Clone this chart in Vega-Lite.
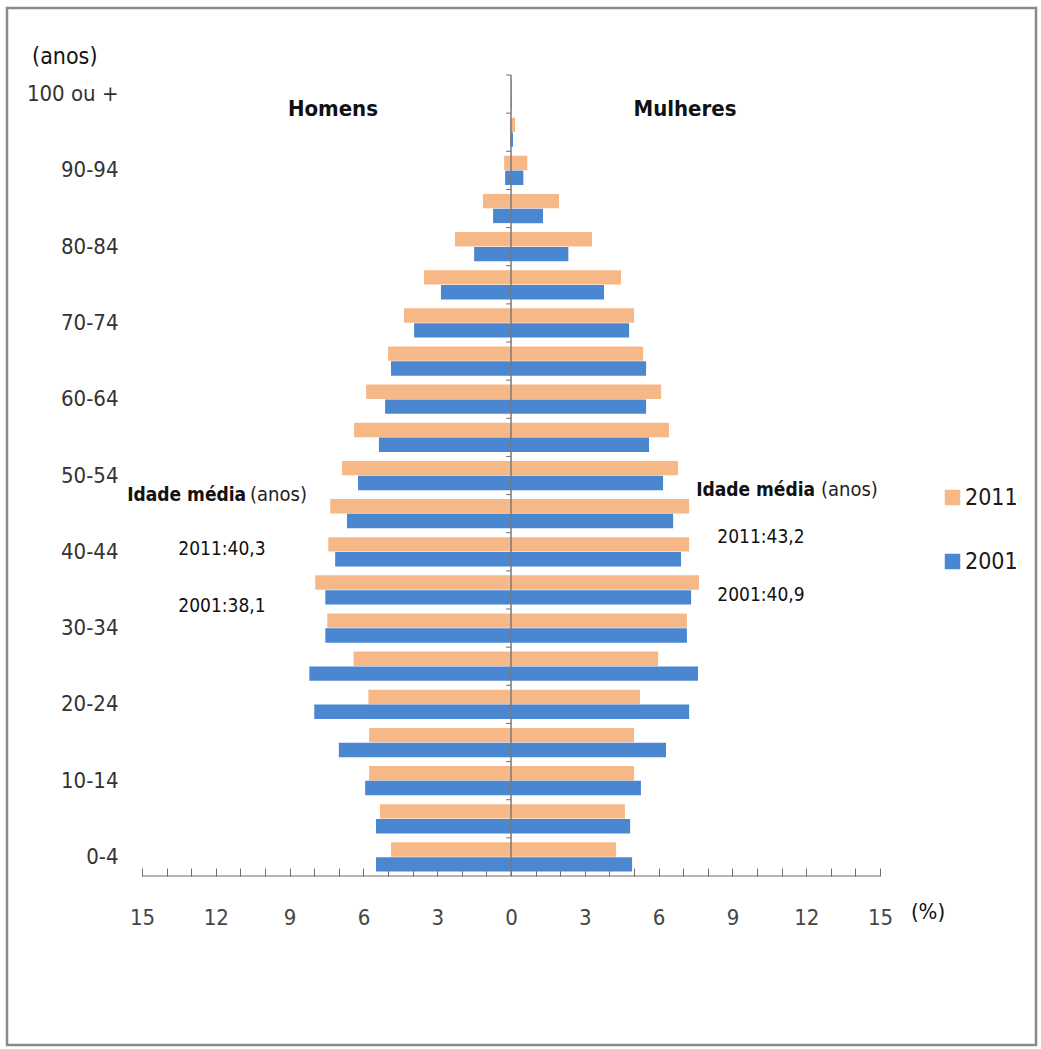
{
  "$schema": "https://vega.github.io/schema/vega-lite/v6.json",
  "width": 1029,
  "height": 1037,
  "autosize": {"type": "none"},
  "padding": {"left": 7, "top": 8, "right": 5, "bottom": 4},
  "background": "white",
  "config": {
    "view": {"stroke": "#8a8a8a", "strokeWidth": 2.5},
    "font": "Liberation Sans Narrow, DejaVu Sans Condensed, Open Sans, sans-serif",
    "text": {"font": "Liberation Sans Narrow, DejaVu Sans Condensed, Open Sans, sans-serif"}
  },
  "datasets": {
    "pyr": [
      {"age": "0-4", "sex": "Homens", "year": "2011", "pct": -4.88},
      {"age": "0-4", "sex": "Homens", "year": "2001", "pct": -5.49},
      {"age": "0-4", "sex": "Mulheres", "year": "2011", "pct": 4.27},
      {"age": "0-4", "sex": "Mulheres", "year": "2001", "pct": 4.92},
      {"age": "5-9", "sex": "Homens", "year": "2011", "pct": -5.33},
      {"age": "5-9", "sex": "Homens", "year": "2001", "pct": -5.49},
      {"age": "5-9", "sex": "Mulheres", "year": "2011", "pct": 4.63},
      {"age": "5-9", "sex": "Mulheres", "year": "2001", "pct": 4.84},
      {"age": "10-14", "sex": "Homens", "year": "2011", "pct": -5.77},
      {"age": "10-14", "sex": "Homens", "year": "2001", "pct": -5.93},
      {"age": "10-14", "sex": "Mulheres", "year": "2011", "pct": 5.0},
      {"age": "10-14", "sex": "Mulheres", "year": "2001", "pct": 5.28},
      {"age": "15-19", "sex": "Homens", "year": "2011", "pct": -5.77},
      {"age": "15-19", "sex": "Homens", "year": "2001", "pct": -7.0},
      {"age": "15-19", "sex": "Mulheres", "year": "2011", "pct": 5.0},
      {"age": "15-19", "sex": "Mulheres", "year": "2001", "pct": 6.3},
      {"age": "20-24", "sex": "Homens", "year": "2011", "pct": -5.8},
      {"age": "20-24", "sex": "Homens", "year": "2001", "pct": -8.0},
      {"age": "20-24", "sex": "Mulheres", "year": "2011", "pct": 5.24},
      {"age": "20-24", "sex": "Mulheres", "year": "2001", "pct": 7.24},
      {"age": "25-29", "sex": "Homens", "year": "2011", "pct": -6.4},
      {"age": "25-29", "sex": "Homens", "year": "2001", "pct": -8.2},
      {"age": "25-29", "sex": "Mulheres", "year": "2011", "pct": 5.98},
      {"age": "25-29", "sex": "Mulheres", "year": "2001", "pct": 7.6},
      {"age": "30-34", "sex": "Homens", "year": "2011", "pct": -7.47},
      {"age": "30-34", "sex": "Homens", "year": "2001", "pct": -7.55},
      {"age": "30-34", "sex": "Mulheres", "year": "2011", "pct": 7.15},
      {"age": "30-34", "sex": "Mulheres", "year": "2001", "pct": 7.15},
      {"age": "35-39", "sex": "Homens", "year": "2011", "pct": -7.96},
      {"age": "35-39", "sex": "Homens", "year": "2001", "pct": -7.55},
      {"age": "35-39", "sex": "Mulheres", "year": "2011", "pct": 7.64},
      {"age": "35-39", "sex": "Mulheres", "year": "2001", "pct": 7.32},
      {"age": "40-44", "sex": "Homens", "year": "2011", "pct": -7.43},
      {"age": "40-44", "sex": "Homens", "year": "2001", "pct": -7.15},
      {"age": "40-44", "sex": "Mulheres", "year": "2011", "pct": 7.24},
      {"age": "40-44", "sex": "Mulheres", "year": "2001", "pct": 6.91},
      {"age": "45-49", "sex": "Homens", "year": "2011", "pct": -7.35},
      {"age": "45-49", "sex": "Homens", "year": "2001", "pct": -6.67},
      {"age": "45-49", "sex": "Mulheres", "year": "2011", "pct": 7.24},
      {"age": "45-49", "sex": "Mulheres", "year": "2001", "pct": 6.59},
      {"age": "50-54", "sex": "Homens", "year": "2011", "pct": -6.87},
      {"age": "50-54", "sex": "Homens", "year": "2001", "pct": -6.22},
      {"age": "50-54", "sex": "Mulheres", "year": "2011", "pct": 6.79},
      {"age": "50-54", "sex": "Mulheres", "year": "2001", "pct": 6.18},
      {"age": "55-59", "sex": "Homens", "year": "2011", "pct": -6.38},
      {"age": "55-59", "sex": "Homens", "year": "2001", "pct": -5.37},
      {"age": "55-59", "sex": "Mulheres", "year": "2011", "pct": 6.42},
      {"age": "55-59", "sex": "Mulheres", "year": "2001", "pct": 5.61},
      {"age": "60-64", "sex": "Homens", "year": "2011", "pct": -5.89},
      {"age": "60-64", "sex": "Homens", "year": "2001", "pct": -5.12},
      {"age": "60-64", "sex": "Mulheres", "year": "2011", "pct": 6.1},
      {"age": "60-64", "sex": "Mulheres", "year": "2001", "pct": 5.49},
      {"age": "65-69", "sex": "Homens", "year": "2011", "pct": -5.0},
      {"age": "65-69", "sex": "Homens", "year": "2001", "pct": -4.88},
      {"age": "65-69", "sex": "Mulheres", "year": "2011", "pct": 5.37},
      {"age": "65-69", "sex": "Mulheres", "year": "2001", "pct": 5.49},
      {"age": "70-74", "sex": "Homens", "year": "2011", "pct": -4.35},
      {"age": "70-74", "sex": "Homens", "year": "2001", "pct": -3.94},
      {"age": "70-74", "sex": "Mulheres", "year": "2011", "pct": 5.0},
      {"age": "70-74", "sex": "Mulheres", "year": "2001", "pct": 4.8},
      {"age": "75-79", "sex": "Homens", "year": "2011", "pct": -3.54},
      {"age": "75-79", "sex": "Homens", "year": "2001", "pct": -2.85},
      {"age": "75-79", "sex": "Mulheres", "year": "2011", "pct": 4.47},
      {"age": "75-79", "sex": "Mulheres", "year": "2001", "pct": 3.78},
      {"age": "80-84", "sex": "Homens", "year": "2011", "pct": -2.28},
      {"age": "80-84", "sex": "Homens", "year": "2001", "pct": -1.5},
      {"age": "80-84", "sex": "Mulheres", "year": "2011", "pct": 3.29},
      {"age": "80-84", "sex": "Mulheres", "year": "2001", "pct": 2.33},
      {"age": "85-89", "sex": "Homens", "year": "2011", "pct": -1.14},
      {"age": "85-89", "sex": "Homens", "year": "2001", "pct": -0.73},
      {"age": "85-89", "sex": "Mulheres", "year": "2011", "pct": 1.95},
      {"age": "85-89", "sex": "Mulheres", "year": "2001", "pct": 1.3},
      {"age": "90-94", "sex": "Homens", "year": "2011", "pct": -0.28},
      {"age": "90-94", "sex": "Homens", "year": "2001", "pct": -0.24},
      {"age": "90-94", "sex": "Mulheres", "year": "2011", "pct": 0.66},
      {"age": "90-94", "sex": "Mulheres", "year": "2001", "pct": 0.5},
      {"age": "95-99", "sex": "Homens", "year": "2011", "pct": -0.05},
      {"age": "95-99", "sex": "Homens", "year": "2001", "pct": -0.03},
      {"age": "95-99", "sex": "Mulheres", "year": "2011", "pct": 0.16},
      {"age": "95-99", "sex": "Mulheres", "year": "2001", "pct": 0.08},
      {"age": "100 ou +", "sex": "Homens", "year": "2011", "pct": -0.01},
      {"age": "100 ou +", "sex": "Homens", "year": "2001", "pct": -0.01},
      {"age": "100 ou +", "sex": "Mulheres", "year": "2011", "pct": 0.03},
      {"age": "100 ou +", "sex": "Mulheres", "year": "2001", "pct": 0.02}
    ],
    "ages": [
      {"age": "0-4"}, {"age": "5-9"}, {"age": "10-14"}, {"age": "15-19"}, {"age": "20-24"},
      {"age": "25-29"}, {"age": "30-34"}, {"age": "35-39"}, {"age": "40-44"}, {"age": "45-49"},
      {"age": "50-54"}, {"age": "55-59"}, {"age": "60-64"}, {"age": "65-69"}, {"age": "70-74"},
      {"age": "75-79"}, {"age": "80-84"}, {"age": "85-89"}, {"age": "90-94"}, {"age": "95-99"},
      {"age": "100 ou +"}
    ]
  },
  "layer": [
    {
      "data": {"name": "pyr"},
      "mark": {"type": "bar", "clip": false},
      "encoding": {
        "y": {
          "field": "age", "type": "nominal",
          "scale": {
            "domain": [" ", "100 ou +", "95-99", "90-94", "85-89", "80-84", "75-79", "70-74", "65-69", "60-64", "55-59", "50-54", "45-49", "40-44", "35-39", "30-34", "25-29", "20-24", "15-19", "10-14", "5-9", "0-4", "  ", "   ", "    ", "     "],
            "paddingInner": 0, "paddingOuter": 0.5937, "align": 0.6374
          },
          "axis": {
            "orient": "left", "offset": -111, "title": null, "domain": false, "ticks": false, "tickSize": 0,
            "labelPadding": 0, "labelFontSize": 22, "labelColor": "#333333",
            "labelFont": "Liberation Sans Narrow, DejaVu Sans Condensed, Open Sans, sans-serif",
            "values": ["0-4", "10-14", "20-24", "30-34", "40-44", "50-54", "60-64", "70-74", "80-84", "90-94", "100 ou +"]
          }
        },
        "yOffset": {
          "field": "year", "type": "nominal",
          "scale": {"domain": ["2011", "2001"], "paddingInner": 0.03, "paddingOuter": 0.3}
        },
        "x": {
          "field": "pct", "type": "quantitative",
          "scale": {"domain": [-20.49, 21.34], "nice": false, "zero": false},
          "axis": {
            "orient": "bottom", "offset": -169, "title": null, "domain": false, "grid": false,
            "values": [-15, -14, -13, -12, -11, -10, -9, -8, -7, -6, -5, -4, -3, -2, -1, 0, 1, 2, 3, 4, 5, 6, 7, 8, 9, 10, 11, 12, 13, 14, 15],
            "tickCount": 60,
            "labelExpr": "datum.value % 3 == 0 ? format(abs(datum.value), 'd') : ''",
            "labelOverlap": false, "labelBound": false,
            "tickSize": -8, "tickColor": "#6e6e6e", "tickWidth": 1,
            "labelPadding": 39, "labelFontSize": 22, "labelColor": "#444444",
            "labelFont": "Liberation Sans Narrow, DejaVu Sans Condensed, Open Sans, sans-serif"
          }
        },
        "x2": {"datum": 0},
        "color": {
          "field": "year", "type": "nominal",
          "scale": {"domain": ["2011", "2001"], "range": ["#F7B888", "#4B86D1"]},
          "legend": {
            "orient": "none", "legendX": 934, "legendY": 478, "title": null,
            "symbolType": "square", "symbolSize": 240, "symbolStrokeWidth": 0, "symbolOpacity": 1,
            "labelFontSize": 23, "labelColor": "#1a1a1a", "labelOffset": 1,
            "labelFont": "Liberation Sans Narrow, DejaVu Sans Condensed, Open Sans, sans-serif",
            "rowPadding": 40, "padding": 0
          }
        }
      }
    },
    {
      "data": {"name": "ages"},
      "mark": {"type": "rect", "fill": null, "stroke": "#7a7a7a", "strokeWidth": 1},
      "encoding": {
        "y": {"field": "age", "type": "nominal"},
        "x": {"datum": 0, "type": "quantitative"},
        "x2": {"datum": 0}
      }
    },
    {
      "data": {"name": "ages"},
      "mark": {"type": "rule", "stroke": "#6e6e6e", "strokeWidth": 1},
      "encoding": {
        "y": {"field": "age", "type": "nominal", "bandPosition": 0},
        "x": {"datum": -0.2, "type": "quantitative"},
        "x2": {"datum": 0}
      }
    },
    {
      "data": {"values": [{"age": "0-4"}]},
      "mark": {"type": "rule", "stroke": "#6e6e6e", "strokeWidth": 1.2},
      "encoding": {
        "y": {"field": "age", "type": "nominal", "bandPosition": 1},
        "x": {"datum": -15, "type": "quantitative"},
        "x2": {"datum": 15}
      }
    },
    {
      "data": {"values": [{"label": "(anos)", "x": -19.47, "age": "100 ou +"}]},
      "mark": {"type": "text", "align": "left", "baseline": "middle", "dy": -18, "fontSize": 23, "color": "#111"},
      "encoding": {
        "text": {"field": "label"},
        "x": {"field": "x", "type": "quantitative"},
        "y": {"field": "age", "type": "nominal", "bandPosition": 0}
      }
    },
    {
      "data": {"values": [{"label": "Homens", "x": -7.24, "age": "100 ou +"}, {"label": "Mulheres", "x": 7.07, "age": "100 ou +"}]},
      "mark": {"type": "text", "align": "center", "baseline": "middle", "dy": -4, "fontSize": 22, "fontWeight": "bold", "color": "#111"},
      "encoding": {
        "text": {"field": "label"},
        "x": {"field": "x", "type": "quantitative"},
        "y": {"field": "age", "type": "nominal", "bandPosition": 1}
      }
    },
    {
      "data": {"values": [{"label": "Idade média", "x": -10.77, "age": "45-49"}]},
      "mark": {"type": "text", "align": "right", "baseline": "middle", "dy": 0, "fontSize": 19, "fontWeight": "bold", "color": "#111"},
      "encoding": {
        "text": {"field": "label"},
        "x": {"field": "x", "type": "quantitative"},
        "y": {"field": "age", "type": "nominal", "bandPosition": 0}
      }
    },
    {
      "data": {"values": [{"label": "(anos)", "x": -10.61, "age": "45-49"}]},
      "mark": {"type": "text", "align": "left", "baseline": "middle", "dy": 0, "fontSize": 20, "color": "#222"},
      "encoding": {
        "text": {"field": "label"},
        "x": {"field": "x", "type": "quantitative"},
        "y": {"field": "age", "type": "nominal", "bandPosition": 0}
      }
    },
    {
      "data": {"values": [{"label": "Idade média", "x": 12.36, "age": "45-49"}]},
      "mark": {"type": "text", "align": "right", "baseline": "middle", "dy": -5, "fontSize": 19, "fontWeight": "bold", "color": "#111"},
      "encoding": {
        "text": {"field": "label"},
        "x": {"field": "x", "type": "quantitative"},
        "y": {"field": "age", "type": "nominal", "bandPosition": 0}
      }
    },
    {
      "data": {"values": [{"label": "(anos)", "x": 12.6, "age": "45-49"}]},
      "mark": {"type": "text", "align": "left", "baseline": "middle", "dy": -5, "fontSize": 20, "color": "#222"},
      "encoding": {
        "text": {"field": "label"},
        "x": {"field": "x", "type": "quantitative"},
        "y": {"field": "age", "type": "nominal", "bandPosition": 0}
      }
    },
    {
      "data": {"values": [{"label": "2011:40,3", "x": -11.75, "age": "40-44"}]},
      "mark": {"type": "text", "align": "center", "baseline": "middle", "dy": -3, "fontSize": 19, "color": "#111"},
      "encoding": {
        "text": {"field": "label"},
        "x": {"field": "x", "type": "quantitative"},
        "y": {"field": "age", "type": "nominal", "bandPosition": 0.5}
      }
    },
    {
      "data": {"values": [{"label": "2001:38,1", "x": -11.75, "age": "30-34"}]},
      "mark": {"type": "text", "align": "center", "baseline": "middle", "dy": -3, "fontSize": 19, "color": "#111"},
      "encoding": {
        "text": {"field": "label"},
        "x": {"field": "x", "type": "quantitative"},
        "y": {"field": "age", "type": "nominal", "bandPosition": 0}
      }
    },
    {
      "data": {"values": [{"label": "2011:43,2", "x": 10.16, "age": "45-49"}]},
      "mark": {"type": "text", "align": "center", "baseline": "middle", "dy": 4, "fontSize": 19, "color": "#111"},
      "encoding": {
        "text": {"field": "label"},
        "x": {"field": "x", "type": "quantitative"},
        "y": {"field": "age", "type": "nominal", "bandPosition": 1}
      }
    },
    {
      "data": {"values": [{"label": "2001:40,9", "x": 10.16, "age": "35-39"}]},
      "mark": {"type": "text", "align": "center", "baseline": "middle", "dy": 5, "fontSize": 19, "color": "#111"},
      "encoding": {
        "text": {"field": "label"},
        "x": {"field": "x", "type": "quantitative"},
        "y": {"field": "age", "type": "nominal", "bandPosition": 0.5}
      }
    },
    {
      "data": {"values": [{"label": "(%)", "x": 16.95, "age": "0-4"}]},
      "mark": {"type": "text", "align": "center", "baseline": "middle", "dy": 36, "fontSize": 22, "color": "#111"},
      "encoding": {
        "text": {"field": "label"},
        "x": {"field": "x", "type": "quantitative"},
        "y": {"field": "age", "type": "nominal", "bandPosition": 1}
      }
    }
  ]
}
